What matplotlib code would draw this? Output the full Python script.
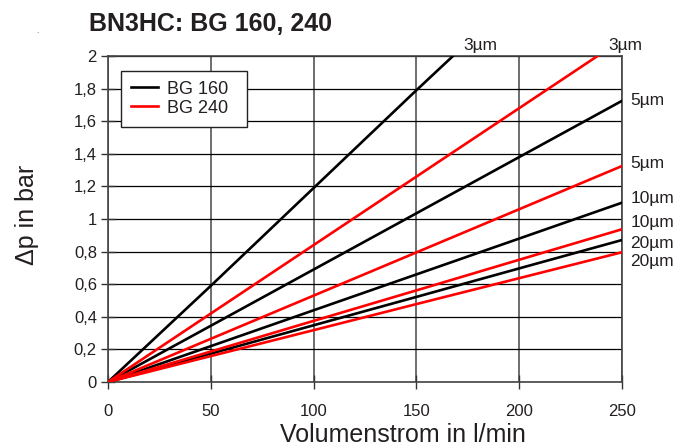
import matplotlib
matplotlib.use('Agg')
import matplotlib.pyplot as plt
from matplotlib.ticker import FuncFormatter

plt.rcParams['font.family'] = ['Liberation Sans', 'DejaVu Sans']

# volume flow (l/min) and pressure drop (bar) per filter element and rating
flow = [0, 50, 100, 150, 200, 250]

bg160_3um = [0, 0.59, 1.19, 1.79, 2.38, 2.97]
bg160_5um = [0, 0.345, 0.69, 1.035, 1.38, 1.725]
bg160_10um = [0, 0.22, 0.44, 0.66, 0.88, 1.10]
bg160_20um = [0, 0.174, 0.348, 0.522, 0.697, 0.871]

bg240_3um = [0, 0.42, 0.84, 1.26, 1.68, 2.10]
bg240_5um = [0, 0.265, 0.53, 0.795, 1.06, 1.325]
bg240_10um = [0, 0.187, 0.375, 0.562, 0.75, 0.937]
bg240_20um = [0, 0.159, 0.318, 0.478, 0.637, 0.796]

ratings = ['3µm', '5µm', '10µm', '20µm']

text_col = '#231f20'

fig = plt.figure(figsize=(6.94, 4.48), dpi=100)
ax = fig.add_axes([108/694, 1 - 382/448, 514/694, 326/448])

# grid first so the curves sit on top
for x in range(0, 251, 50):
    ax.axvline(x, color='#555555', lw=1.2, zorder=1)
for i in range(11):
    ax.axhline(i * 0.2, color='black', lw=0.9, zorder=1)

black_series = [bg160_3um, bg160_5um, bg160_10um, bg160_20um]
red_series = [bg240_3um, bg240_5um, bg240_10um, bg240_20um]

for k, s in enumerate(black_series):
    ax.plot(flow, s, color='black', lw=1.9, zorder=3,
            label='BG 160' if k == 0 else None)
for k, s in enumerate(red_series):
    ax.plot(flow, s, color='#ff0000', lw=1.9, zorder=3,
            label='BG 240' if k == 0 else None)

ax.set_xlim(0, 250)
ax.set_ylim(0, 2)
ax.set_xticks(range(0, 251, 50))
ax.set_yticks([i * 0.2 for i in range(11)])
ax.yaxis.set_major_formatter(FuncFormatter(lambda v, p: ('%g' % round(v, 2)).replace('.', ',')))
ax.tick_params(direction='inout', length=10, width=1, colors='#333333',
               labelcolor=text_col, labelsize=12)
ax.tick_params(axis='y', pad=3)
ax.tick_params(axis='x', pad=11)
for sp in ax.spines.values():
    sp.set_color('#444444')
    sp.set_linewidth(1.2)

# rating labels at the line ends
label_pos = [
    (ratings[0], 181, 2.063, 'center'),
    (ratings[0], 251.5, 2.063, 'center'),
    (ratings[1], 254, 1.726, 'left'),
    (ratings[1], 254, 1.342, 'left'),
    (ratings[2], 254, 1.127, 'left'),
    (ratings[2], 254, 0.977, 'left'),
    (ratings[3], 254, 0.851, 'left'),
    (ratings[3], 254, 0.738, 'left'),
]
for txt, x, y, ha in label_pos:
    ax.text(x, y, txt, ha=ha, va='center', fontsize=12.5, color=text_col, clip_on=False)

ax.set_xlabel('Volumenstrom in l/min', fontsize=18, color=text_col)
ax.xaxis.set_label_coords(0.574, -0.183)
ax.xaxis.label.set_va('baseline')
ax.set_ylabel('Δp in bar', fontsize=18, color=text_col)
ax.yaxis.set_label_coords(-0.158, 0.512)
ax.yaxis.label.set_va('center')

leg = ax.legend(loc='upper left', bbox_to_anchor=(0.0247, 0.79, 0.2463, 0.165),
                mode='expand', borderaxespad=0,
                fontsize=13, frameon=True, fancybox=False, framealpha=1,
                handlelength=1.5, handletextpad=0.5, labelspacing=0.12,
                borderpad=0.55)
leg.get_frame().set_edgecolor('#222222')
leg.get_frame().set_linewidth(1.0)
for t in leg.get_texts():
    t.set_color(text_col)
leg.set_zorder(5)

fig.text(89/694, 1 - 31/448, 'BN3HC: BG 160, 240', fontsize=18, fontweight='bold',
         color=text_col, ha='left', va='baseline')
fig.text(36/694, 1 - 33/448, '.', fontsize=6, color='#555555')

fig.savefig('out.png', dpi=100)
